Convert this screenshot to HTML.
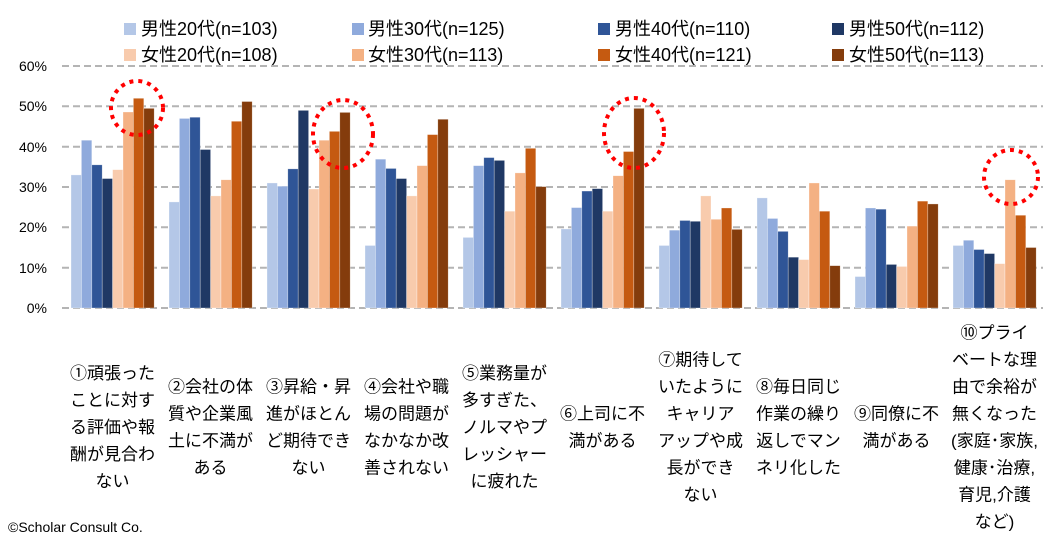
<!DOCTYPE html>
<html><head><meta charset="utf-8"><style>
body{margin:0;background:#fff;}
svg{display:block;font-family:"Liberation Sans","Noto Sans CJK JP",sans-serif;}
</style></head><body>
<svg width="1062" height="542" viewBox="0 0 1062 542" xmlns="http://www.w3.org/2000/svg">
<g stroke="#b4b4b4" stroke-width="2" stroke-dasharray="7,4">
<line x1="62" x2="1043" y1="66" y2="66"/><line x1="62" x2="1043" y1="106.3" y2="106.3"/>
<line x1="62" x2="1043" y1="146.7" y2="146.7"/><line x1="62" x2="1043" y1="187" y2="187"/>
<line x1="62" x2="1043" y1="227.3" y2="227.3"/><line x1="62" x2="1043" y1="267.7" y2="267.7"/>
<line x1="62" x2="1043" y1="308" y2="308"/>
</g>
<g font-size="14" fill="#000" text-anchor="end">
<text x="47" y="71">60%</text><text x="47" y="111">50%</text><text x="47" y="152">40%</text>
<text x="47" y="192">30%</text><text x="47" y="232">20%</text><text x="47" y="273">10%</text>
<text x="47" y="313">0%</text>
</g>
<g id="bars"></g>
<g fill="none" stroke="#f00" stroke-width="4" stroke-dasharray="4,5">
<ellipse cx="137" cy="108" rx="26" ry="27"/>
<ellipse cx="343" cy="134" rx="30" ry="34"/>
<ellipse cx="634" cy="133" rx="30" ry="35"/>
<ellipse cx="1011" cy="177" rx="27" ry="27"/>
</g>
<g font-size="18">
<rect x="124" y="23" width="12" height="12" fill="#b4c7e7"/><text x="141" y="35">男性20代(n=103)</text>
<rect x="352" y="23" width="12" height="12" fill="#8faadc"/><text x="368" y="35">男性30代(n=125)</text>
<rect x="598" y="23" width="12" height="12" fill="#2f5597"/><text x="615" y="35">男性40代(n=110)</text>
<rect x="832" y="23" width="12" height="12" fill="#1f3864"/><text x="849" y="35">男性50代(n=112)</text>
<rect x="124" y="49" width="12" height="12" fill="#f8cbad"/><text x="141" y="61">女性20代(n=108)</text>
<rect x="352" y="49" width="12" height="12" fill="#f4b183"/><text x="368" y="61">女性30代(n=113)</text>
<rect x="598" y="49" width="12" height="12" fill="#c55a11"/><text x="615" y="61">女性40代(n=121)</text>
<rect x="832" y="49" width="12" height="12" fill="#843c0c"/><text x="849" y="61">女性50代(n=113)</text>
</g>
<g id="labels" font-size="17" text-anchor="middle"></g>
<text x="8" y="532" font-size="14">©Scholar Consult Co.</text>
</svg>
<script>
var data=[[33,41.6,35.5,32.1,34.3,48.6,52,49.5],[26.3,47,47.3,39.3,27.8,31.8,46.3,51.2],[31,30.2,34.5,49,29.5,41.6,43.8,48.5],[15.5,36.9,34.6,32.1,27.8,35.3,43,46.8],[17.5,35.3,37.3,36.6,24,33.5,39.6,30.1],[19.6,24.9,29,29.6,24,32.8,38.8,49.5],[15.5,19.3,21.7,21.5,27.8,22,24.8,19.5],[27.3,22.2,19,12.6,12,31,24,10.5],[7.8,24.8,24.5,10.8,10.3,20.3,26.5,25.8],[15.5,16.8,14.5,13.5,11,31.8,23,15]];
var cols=["#b4c7e7","#8faadc","#2f5597","#1f3864","#f8cbad","#f4b183","#c55a11","#843c0c"];
var labels=[["①頑張った","ことに対す","る評価や報","酬が見合わ","ない"],["②会社の体","質や企業風","土に不満が","ある"],["③昇給・昇","進がほとん","ど期待でき","ない"],["④会社や職","場の問題が","なかなか改","善されない"],["⑤業務量が","多すぎた、","ノルマやプ","レッシャー","に疲れた"],["⑥上司に不","満がある"],["⑦期待して","いたように","キャリア","アップや成","長ができ","ない"],["⑧毎日同じ","作業の繰り","返しでマン","ネリ化した"],["⑨同僚に不","満がある"],["⑩プライ","ベートな理","由で余裕が","無くなった","(家庭･家族,","健康･治療,","育児,介護","など)"]];
var ns="http://www.w3.org/2000/svg",b=document.getElementById("bars"),L=document.getElementById("labels");
data.forEach(function(d,k){var x0=71+98*k;d.forEach(function(v,i){var r=document.createElementNS(ns,"rect");var h=v*4.033;r.setAttribute("x",x0+i*10.4);r.setAttribute("y",308-h);r.setAttribute("width",10.4);r.setAttribute("height",h);r.setAttribute("fill",cols[i]);r.setAttribute("stroke","rgba(255,255,255,0.5)");r.setAttribute("stroke-width","0.6");b.appendChild(r);});
var ls=labels[k],n=ls.length,cx=112.5+98*k,c=427;ls.forEach(function(s,j){var t=document.createElementNS(ns,"text");t.setAttribute("x",cx);t.setAttribute("y",c+(j-(n-1)/2)*27+6);t.textContent=s;L.appendChild(t);});});
</script>
</body></html>
